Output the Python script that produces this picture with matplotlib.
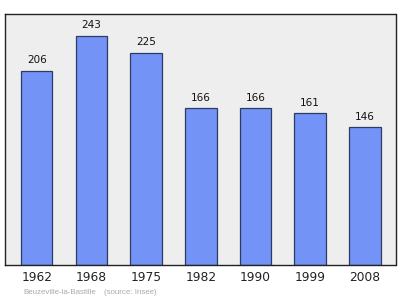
import matplotlib
matplotlib.use("Agg")
import matplotlib.pyplot as plt

years = ["1962", "1968", "1975", "1982", "1990", "1999", "2008"]
population = [206, 243, 225, 166, 166, 161, 146]
source_name = "Beuzeville-la-Bastille"
source_ref = "(source: Insee)"

fig = plt.figure(figsize=(4.0, 2.99), dpi=100)
ax = fig.add_axes([4.5/400, 1 - 264.5/299, 391/400, 251/299])
ax.set_facecolor("#eeeeee")
x = list(range(len(years)))
ax.bar(x, population, width=0.575, color="#7393f7", edgecolor="#2e3b66", linewidth=0.9, zorder=2)
for xi, v in zip(x, population):
    ax.text(xi, v + 6, str(v), ha="center", va="bottom", fontsize=7.5, color="#111111")
ax.set_xlim(-0.59, 6.56)
ax.set_ylim(0, 267)
ax.set_yticks([])
ax.set_xticks(x)
ax.set_xticklabels(years, fontsize=8.8, color="#222222")
ax.tick_params(axis="x", length=0, pad=5)
for s in ax.spines.values():
    s.set_color("#222222")
    s.set_linewidth(1.0)
fam = ["Liberation Sans", "DejaVu Sans"]
fig.text(23/400, 1 - 292/299, source_name, fontsize=5.7, color="#aaaaaa",
         ha="left", va="center", family=fam)
fig.text(104/400, 1 - 292/299, source_ref, fontsize=5.7, color="#aaaaaa",
         ha="left", va="center", family=fam)
fig.savefig("out.png", dpi=100)
